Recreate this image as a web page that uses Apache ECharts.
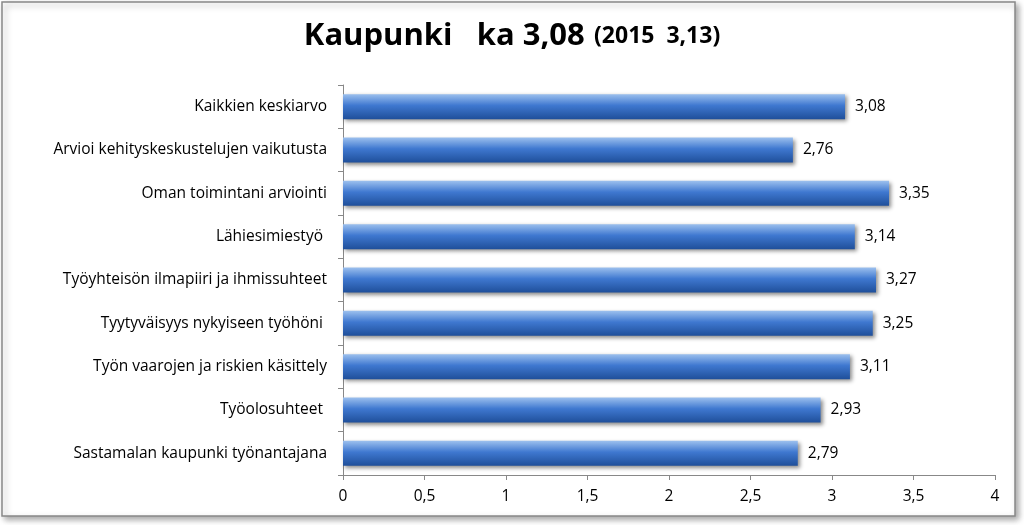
<!DOCTYPE html>
<html><head><meta charset="utf-8">
<script src="https://cdn.jsdelivr.net/npm/echarts@6/dist/echarts.min.js"></script>
<style>html,body{margin:0;padding:0;background:#fff}#c{width:1024px;height:525px}</style>
</head><body><div id="c"></div>
<script>
const categories = ["Kaikkien keskiarvo","Arvioi kehityskeskustelujen vaikutusta","Oman toimintani arviointi","Lähiesimiestyö ","Työyhteisön ilmapiiri ja ihmissuhteet","Tyytyväisyys nykyiseen työhöni ","Työn vaarojen ja riskien käsittely","Työolosuhteet ","Sastamalan kaupunki työnantajana"];
const values = [3.08,2.76,3.35,3.14,3.27,3.25,3.11,2.93,2.79];
const xTicks = [0,0.5,1,1.5,2,2.5,3,3.5,4];
const chart = echarts.init(document.getElementById('c'));
const fmt = v => String(v).replace('.', ',');
chart.setOption({
  animation:false,
  textStyle:{fontFamily:'"Open Sans", sans-serif'},
  graphic:[{type:'rect',shape:{x:2,y:2,width:1013,height:514},style:{fill:'#fff',stroke:'#888',lineWidth:1.5,shadowBlur:6,shadowColor:'rgba(0,0,0,0.35)',shadowOffsetX:3,shadowOffsetY:3}}],
  title:{left:'center',top:16,text:'{a|Kaupunki   ka 3,08}  {b|(2015  3,13)}',
    textStyle:{rich:{a:{fontSize:31,fontWeight:'bold',color:'#000',fontFamily:'"Open Sans", sans-serif'},b:{fontSize:23,fontWeight:'bold',color:'#000',fontFamily:'"Open Sans", sans-serif'}}}},
  grid:{left:343,right:29,top:85,bottom:50,containLabel:false},
  xAxis:{type:'value',min:0,max:4,interval:0.5,splitLine:{show:false},
    axisLine:{show:true,lineStyle:{color:'#888'}},axisTick:{show:true,lineStyle:{color:'#888'}},
    axisLabel:{color:'#000',fontSize:15.5,margin:14,formatter:fmt}},
  yAxis:{type:'category',data:categories,inverse:true,
    axisLine:{show:true,lineStyle:{color:'#888'}},axisTick:{show:true,lineStyle:{color:'#888'}},
    axisLabel:{color:'#000',fontSize:15.5,margin:16}},
  series:[{type:'bar',data:values,barWidth:25,
    itemStyle:{color:new echarts.graphic.LinearGradient(0,0,0,1,[{offset:0,color:'#9cc0ee'},{offset:0.45,color:'#3f78d0'},{offset:1,color:'#1f4f9a'}]),
      shadowBlur:4,shadowColor:'rgba(0,0,0,0.45)',shadowOffsetX:2,shadowOffsetY:2},
    label:{show:true,position:'right',distance:10,color:'#000',fontSize:15.5,formatter:p=>p.value.toFixed(2).replace('.',',')}}]
});
</script></body></html>
